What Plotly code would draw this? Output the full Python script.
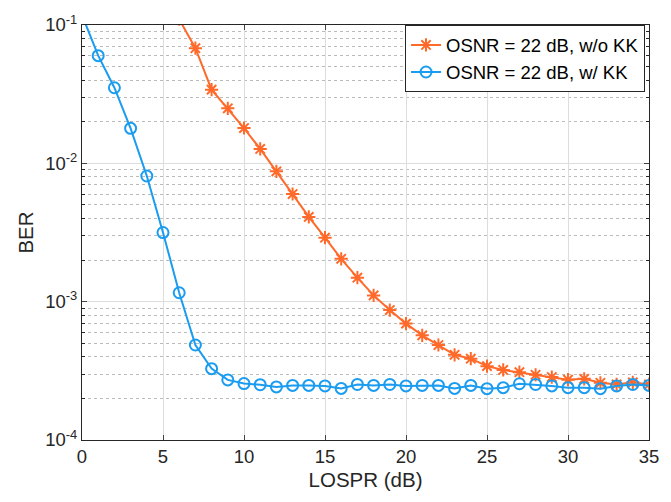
import plotly.graph_objects as go

losp = list(range(0, 36))
ber_kk = [0.118, 0.060, 0.0352, 0.0179, 0.0081, 0.00316, 0.00116, 4.86e-4, 3.28e-4, 2.72e-4,
          2.56e-4, 2.51e-4, 2.42e-4, 2.48e-4, 2.48e-4, 2.46e-4, 2.36e-4, 2.52e-4, 2.48e-4, 2.52e-4,
          2.46e-4, 2.48e-4, 2.48e-4, 2.36e-4, 2.48e-4, 2.35e-4, 2.39e-4, 2.55e-4, 2.52e-4, 2.46e-4,
          2.39e-4, 2.39e-4, 2.35e-4, 2.46e-4, 2.52e-4, 2.48e-4]
losp_nokk = list(range(6, 36))
ber_nokk = [0.11, 0.068, 0.0341, 0.0250, 0.0180, 0.0127, 0.00875, 0.0060, 0.0041, 0.0029,
            0.00204, 0.00149, 0.00111, 8.7e-4, 6.94e-4, 5.71e-4, 4.86e-4, 4.13e-4, 3.87e-4, 3.42e-4,
            3.21e-4, 3.09e-4, 2.96e-4, 2.85e-4, 2.73e-4, 2.77e-4, 2.59e-4, 2.52e-4, 2.61e-4, 2.52e-4]

ytick_vals = [1e-4, 1e-3, 1e-2, 1e-1]
ytick_text = ["10<sup>-4</sup>", "10<sup>-3</sup>", "10<sup>-2</sup>", "10<sup>-1</sup>"]
xtick_vals = [0, 5, 10, 15, 20, 25, 30, 35]
minor_vals = [m * d for d in (1e-4, 1e-3, 1e-2) for m in range(2, 10)]

orange = "#FF6A2B"
blue = "#1A9CF0"

fig = go.Figure()
fig.add_trace(go.Scatter(x=losp_nokk, y=ber_nokk, mode="lines+markers",
                         name="OSNR = 22 dB, w/o KK",
                         line=dict(color=orange, width=2),
                         marker=dict(symbol="asterisk-open", size=11,
                                     line=dict(color=orange, width=2))))
fig.add_trace(go.Scatter(x=losp, y=ber_kk, mode="lines+markers",
                         name="OSNR = 22 dB, w/ KK",
                         line=dict(color=blue, width=2),
                         marker=dict(symbol="circle-open", size=11,
                                     line=dict(color=blue, width=2))))

font = "Liberation Sans, Arial, Helvetica, sans-serif"
fig.update_layout(
    width=671, height=502,
    margin=dict(l=82, r=18, t=14, b=62),
    paper_bgcolor="white", plot_bgcolor="white",
    font=dict(family=font, size=18, color="#262626"),
    legend=dict(x=0.993, y=0.999, xanchor="right", yanchor="top",
                bgcolor="white", bordercolor="#262626", borderwidth=1,
                font=dict(size=18.5, color="black"), tracegroupgap=0,
                itemwidth=30),
    xaxis=dict(range=[0, 35], tickvals=xtick_vals, ticks="inside", ticklen=5,
               showline=True, linecolor="#262626", linewidth=1, mirror="allticks",
               showgrid=True, gridcolor="#DDDDDD", gridwidth=1, zeroline=False,
               title=dict(text="LOSPR (dB)", font=dict(size=20.5), standoff=6),
               tickfont=dict(size=18.5)),
    yaxis=dict(type="log", range=[-4, -1], tickvals=ytick_vals, ticktext=ytick_text,
               ticks="inside", ticklen=5,
               showline=True, linecolor="#262626", linewidth=1, mirror="allticks",
               showgrid=True, gridcolor="#DDDDDD", gridwidth=1, zeroline=False,
               minor=dict(tickvals=minor_vals, ticks="inside", ticklen=3, showgrid=True,
                          gridcolor="#BBBBBB", griddash="dot", gridwidth=1,
                          tickcolor="#262626"),
               title=dict(text="BER", font=dict(size=20.5), standoff=6),
               tickfont=dict(size=18.5)),
)

fig.write_html("out.html")
